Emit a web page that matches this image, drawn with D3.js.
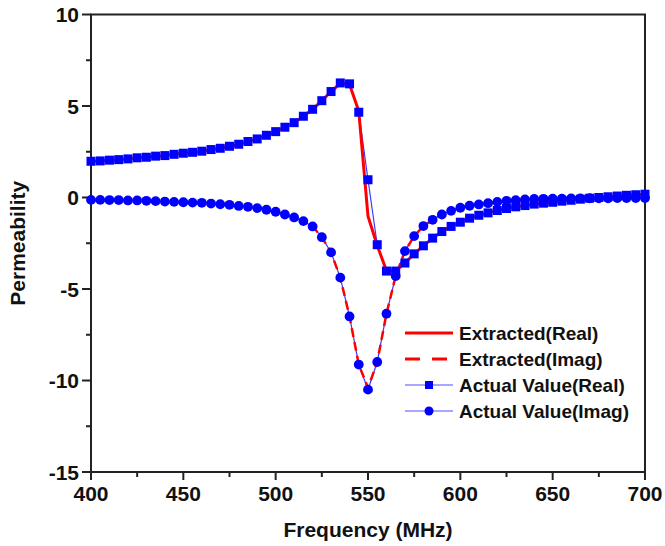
<!DOCTYPE html>
<html>
<head>
<meta charset="utf-8">
<script src="https://cdn.jsdelivr.net/npm/d3@7"></script>
<style>
  body { margin: 0; background: #fff; }
  svg { display: block; }
  text { font-family: "Liberation Sans", Arial, sans-serif; font-weight: bold; fill: #111; }
</style>
</head>
<body>
<svg id="chart" width="665" height="546"></svg>
<script>
// frecuencias (MHz), paso de 5
const freqs = [400, 405, 410, 415, 420, 425, 430, 435, 440, 445, 450, 455, 460, 465, 470, 475, 480, 485, 490, 495,
               500, 505, 510, 515, 520, 525, 530, 535, 540, 545, 550, 555, 560, 565, 570, 575, 580, 585, 590, 595,
               600, 605, 610, 615, 620, 625, 630, 635, 640, 645, 650, 655, 660, 665, 670, 675, 680, 685, 690, 695, 700];

// valores reales (cuadrados)
const actualReal = [1.98, 2.00, 2.04, 2.07, 2.11, 2.17, 2.20, 2.26, 2.29, 2.36, 2.42, 2.47, 2.53, 2.62, 2.69, 2.80, 2.91, 3.06, 3.20, 3.40,
                    3.60, 3.84, 4.09, 4.44, 4.82, 5.29, 5.79, 6.26, 6.21, 4.66, 0.97, -2.58, -4.02, -4.02, -3.58, -3.08, -2.64, -2.22, -1.86, -1.58,
                    -1.35, -1.13, -0.97, -0.84, -0.71, -0.60, -0.51, -0.44, -0.36, -0.31, -0.26, -0.20, -0.15, -0.09, -0.04, 0.00, 0.04, 0.08, 0.12, 0.15, 0.18];

// valores imaginarios (círculos)
const actualImag = [-0.13, -0.13, -0.14, -0.14, -0.16, -0.16, -0.18, -0.20, -0.22, -0.24, -0.26, -0.28, -0.29, -0.33, -0.37, -0.40, -0.46, -0.51, -0.58, -0.67,
                    -0.78, -0.93, -1.09, -1.29, -1.58, -2.17, -3.00, -4.38, -6.50, -9.13, -10.50, -8.99, -6.35, -4.29, -2.93, -2.11, -1.56, -1.22, -0.93, -0.73,
                    -0.56, -0.45, -0.38, -0.31, -0.24, -0.18, -0.15, -0.11, -0.08, -0.07, -0.06, -0.06, -0.05, -0.05, -0.04, -0.04, -0.04, -0.03, -0.03, -0.03, -0.03];

// curvas extraídas (casi iguales, salvo cerca de 550 MHz)
const extractedReal = [1.98, 2.00, 2.04, 2.07, 2.11, 2.17, 2.20, 2.26, 2.29, 2.36, 2.42, 2.47, 2.53, 2.62, 2.69, 2.80, 2.91, 3.06, 3.20, 3.40,
                       3.60, 3.84, 4.09, 4.44, 4.82, 5.29, 5.79, 6.24, 6.18, 4.72, -1.02, -2.62, -4.00, -4.02, -3.58, -3.08, -2.64, -2.22, -1.86, -1.58,
                       -1.35, -1.13, -0.97, -0.84, -0.71, -0.60, -0.51, -0.44, -0.36, -0.31, -0.26, -0.20, -0.15, -0.09, -0.04, 0.00, 0.04, 0.08, 0.12, 0.15, 0.18];
const extractedImag = [-0.13, -0.13, -0.14, -0.14, -0.16, -0.16, -0.18, -0.20, -0.22, -0.24, -0.26, -0.28, -0.29, -0.33, -0.37, -0.40, -0.46, -0.51, -0.58, -0.67,
                       -0.78, -0.93, -1.09, -1.29, -1.58, -2.17, -3.00, -4.38, -6.50, -9.13, -10.40, -8.99, -6.35, -4.29, -2.93, -2.11, -1.56, -1.22, -0.93, -0.73,
                       -0.56, -0.45, -0.38, -0.31, -0.24, -0.18, -0.15, -0.11, -0.08, -0.07, -0.06, -0.06, -0.05, -0.05, -0.04, -0.04, -0.04, -0.03, -0.03, -0.03, -0.03];

const xTicks = [400, 450, 500, 550, 600, 650, 700];
const yTicks = [-15, -10, -5, 0, 5, 10];
const legendLabels = ["Extracted(Real)", "Extracted(Imag)", "Actual Value(Real)", "Actual Value(Imag)"];

const svg = d3.select("#chart");
const mLeft = 91, mRight = 645, mTop = 14.5, mBottom = 472;

const x = d3.scaleLinear().domain([400, 700]).range([mLeft, mRight]);
const y = d3.scaleLinear().domain([-15, 10]).range([mBottom, mTop]);

const red = "#ff0000", blue = "#0000ff", blueLine = "#3a3aff";
const axisColor = "#222";

const line = vals => d3.line()
    .x((d, i) => x(freqs[i]))
    .y(d => y(d))(vals);

const g = svg.append("g");

// marco
g.append("rect")
    .attr("x", mLeft).attr("y", mTop)
    .attr("width", mRight - mLeft).attr("height", mBottom - mTop)
    .attr("fill", "none").attr("stroke", axisColor).attr("stroke-width", 2);

// ticks eje x (mayores y menores)
d3.range(400, 701, 25).forEach(v => {
    const major = v % 50 === 0;
    g.append("line")
        .attr("x1", x(v)).attr("x2", x(v))
        .attr("y1", mBottom).attr("y2", mBottom + (major ? 8 : 5))
        .attr("stroke", axisColor).attr("stroke-width", 2);
});
g.selectAll(".xl").data(xTicks).enter().append("text")
    .attr("x", d => x(d)).attr("y", mBottom + 29)
    .attr("text-anchor", "middle")
    .attr("font-size", 21)
    .text(d => d);

// ticks eje y
d3.range(-15, 10.1, 2.5).forEach(v => {
    const major = v % 5 === 0;
    g.append("line")
        .attr("x1", mLeft - (major ? 9 : 5)).attr("x2", mLeft)
        .attr("y1", y(v)).attr("y2", y(v))
        .attr("stroke", axisColor).attr("stroke-width", 2);
});
g.selectAll(".yl").data(yTicks).enter().append("text")
    .attr("x", mLeft - 12).attr("y", d => y(d) + 7.5)
    .attr("text-anchor", "end")
    .attr("font-size", 21)
    .text(d => d);

// títulos
svg.append("text")
    .attr("x", (mLeft + mRight) / 2).attr("y", 537)
    .attr("text-anchor", "middle")
    .attr("font-size", 21)
    .text("Frequency (MHz)");
svg.append("text")
    .attr("transform", `translate(25, ${(mTop + mBottom) / 2}) rotate(-90)`)
    .attr("text-anchor", "middle")
    .attr("font-size", 21)
    .text("Permeability");

// líneas azules finas
[actualReal, actualImag].forEach(vals => {
    svg.append("path")
        .attr("d", line(vals))
        .attr("fill", "none").attr("stroke", blueLine).attr("stroke-width", 1.2);
});

// líneas rojas
svg.append("path")
    .attr("d", line(extractedReal))
    .attr("fill", "none").attr("stroke", red).attr("stroke-width", 3);
svg.append("path")
    .attr("d", line(extractedImag))
    .attr("fill", "none").attr("stroke", red).attr("stroke-width", 2.5)
    .attr("stroke-dasharray", "9,5");

// marcadores
svg.selectAll(".sq").data(actualReal).enter().append("rect")
    .attr("x", (d, i) => x(freqs[i]) - 4.5)
    .attr("y", d => y(d) - 4.5)
    .attr("width", 9).attr("height", 9)
    .attr("fill", blue);
svg.selectAll(".ci").data(actualImag).enter().append("circle")
    .attr("cx", (d, i) => x(freqs[i]))
    .attr("cy", d => y(d))
    .attr("r", 4.9)
    .attr("fill", blue);

// leyenda
const lx = 405, lw = 48, ly0 = 333, lstep = 26;
const leg = svg.append("g");
legendLabels.forEach((lab, i) => {
    const yy = ly0 + i * lstep;
    if (i === 0) {
        leg.append("line").attr("x1", lx).attr("x2", lx + lw).attr("y1", yy).attr("y2", yy)
            .attr("stroke", red).attr("stroke-width", 3);
    } else if (i === 1) {
        leg.append("line").attr("x1", lx).attr("x2", lx + lw).attr("y1", yy).attr("y2", yy)
            .attr("stroke", red).attr("stroke-width", 3).attr("stroke-dasharray", "15,12");
    } else {
        leg.append("line").attr("x1", lx).attr("x2", lx + lw).attr("y1", yy).attr("y2", yy)
            .attr("stroke", "#5050ff").attr("stroke-width", 1.2);
        if (i === 2) {
            leg.append("rect").attr("x", lx + lw / 2 - 4).attr("y", yy - 4)
                .attr("width", 8).attr("height", 8).attr("fill", blue);
        } else {
            leg.append("circle").attr("cx", lx + lw / 2).attr("cy", yy).attr("r", 4.5).attr("fill", blue);
        }
    }
    leg.append("text")
        .attr("x", lx + lw + 6).attr("y", yy + 7)
        .attr("font-size", 19)
        .text(lab);
});
</script>
</body>
</html>
